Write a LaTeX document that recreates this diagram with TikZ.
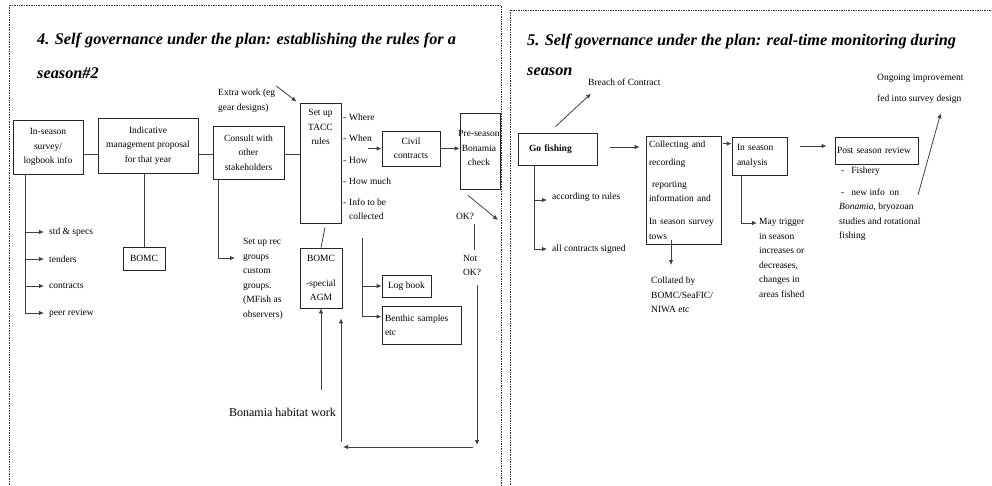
\documentclass[tikz,border=0pt]{standalone}
\usepackage{fontspec}
\setmainfont{Liberation Serif}
\usetikzlibrary{arrows.meta}
\newcommand\diagfont{\fontsize{9.5}{14.5}\selectfont}
\newcommand\headfont{\fontsize{16.3}{19}\selectfont\bfseries\itshape}
\tikzset{
  box/.style={draw=black!85, line width=0.8pt, align=center, inner sep=2pt},
  note/.style={inner sep=0pt, align=left},
  head/.style={inner sep=0pt, anchor=west, font=\headfont},
  link/.style={draw=black!75, line width=0.8pt},
  arr/.style={link, -{Latex[length=5pt,width=4.5pt]}},
  panel/.style={draw=black!80, line width=0.7pt, densely dotted}
}
\begin{document}
\begin{tikzpicture}[x=1pt, y=-1pt, font=\diagfont]
\useasboundingbox (0,0) rectangle (992,486);
\draw[panel] (9,5) rectangle (501,500);
\draw[panel] (510,10) rectangle (1000,500);

\node[head] (headA) at (37,40) {4. Self governance under the plan: establishing the rules for a};
\node[head] (headB) at (37,73) {season\#2};

\node[box, minimum width=70, minimum height=54] (survey) at (48,147) {In-season\\survey/\\logbook info};
\node[box, minimum width=100, minimum height=55] (proposal) at (148,145.5) {Indicative\\management proposal\\for that year};
\node[box, minimum width=71, minimum height=53] (consult) at (248.5,152.5) {Consult with\\other\\stakeholders};
\node[box, minimum width=41, minimum height=120] (tacc) at (320.5,163) {};
\node[note, align=center, anchor=north] (tacctext) at (320.5,109.5) {Set up\\TACC\\rules};
\coordinate (spine) at (0,154);
\draw[link] (survey.east |- spine) -- (proposal.west |- spine);
\draw[link] (proposal.east |- spine) -- (consult.west |- spine);
\draw[link] (consult.east |- spine) -- (tacc.west |- spine);

\node[note, anchor=north west] (extra) at (218,89) {Extra work (eg\\gear designs)};
\draw[arr] ([shift={(1,-3)}]extra.north east) -- ([shift={(-3,-1)}]tacc.north west);

\foreach \name/\ypos/\word in {where/117/Where, when/138/When, how/160/How, howmuch/181/How much}
  \node[note, anchor=west] (\name) at (349,\ypos) {\llap{-\hspace{3pt}}\word};
\node[note, anchor=north west] (info) at (349,198.5) {\llap{-\hspace{3pt}}Info to be\\collected};

\node[box, minimum width=58, minimum height=35] (civil) at (411,148.5) {Civil\\contracts};
\coordinate (tacc out) at (368,148.5);
\draw[arr] (tacc out) -- (civil.west);
\node[box, minimum width=40, minimum height=76] (check) at (480,151) {};
\node[note, align=center] (checktext) at (479,148) {Pre-season\\Bonamia\\check};
\draw[arr] (civil.east) -- (civil.east -| check.west);
\coordinate (ok end) at (498,220);
\draw[arr] ([shift={(-12,6)}]check.south) -- (ok end);

\node[note] (ok) at (465,216) {OK?};
\node[note] (notok) at (472,265.5) {Not\\OK?};
\draw[link] ([shift={(0,5)}]ok.south east) -- ([shift={(0,-5)}]ok.south east |- notok.north);
\coordinate (loop a) at (477,445);
\coordinate (loop b) at (473,447);
\coordinate (loop c) at (343,447);
\coordinate (loop d) at (341,442);
\draw[arr] (loop a |- notok.south) ++(0,9) -- (loop a);
\draw[arr] (loop b) -- (loop c);

\node[box, minimum width=42, minimum height=60] (agm) at (321,278) {BOMC\\[10pt]-special\\AGM};
\draw[link] ([xshift=4.5pt]tacc.south) ++(0,4) -- (agm.north);
\draw[arr] (loop d) -- ([shift={(20,10)}]agm.south);
\node[note, anchor=east, font=\fontsize{12}{14}\selectfont] (habitat) at (336,412) {Bonamia habitat work};
\draw[arr] (agm.south |- habitat.north) ++(0,-18) -- (agm.south);

\node[box, minimum width=49, minimum height=22] (logbook) at (406.5,286) {Log book};
\node[box, minimum height=38, text width=73, align=left, inner xsep=3pt] (benthic) at (421.5,325) {Benthic samples\\etc};
\coordinate (info foot) at (362,238);
\draw[arr] (info foot) |- (logbook.west);
\draw[arr] (info foot) |- ([shift={(0,11)}]benthic.north west);

\foreach \name/\ypos/\word in {specs/232/std \& specs, tenders/259/tenders, contracts/286/contracts, review/313/peer review}{
  \node[note, anchor=west] (\name) at (49,\ypos) {\word};
  \draw[arr] ([xshift=-23pt]survey.south) |- ([xshift=-5pt]\name.west);
}

\node[box, minimum width=42, minimum height=23] (bomc) at (144,258.5) {BOMC};
\draw[link] (bomc.north |- proposal.south) -- (bomc.north);

\node[note, anchor=north west] (recgroups) at (243,238.5) {Set up rec\\groups\\custom\\groups.\\(MFish as\\observers)};
\draw[arr] ([xshift=-30.5pt]consult.south) |- ([shift={(-8,19.5)}]recgroups.north west);

\node[head] (headC) at (527,41) {5. Self governance under the plan: real-time monitoring during};
\node[head] (headD) at (527,72) {season};

\node[box, minimum height=32, text width=57, inner xsep=11pt, align=left, font=\diagfont\bfseries] (gofish) at (557.5,149) {Go fishing};
\node[note, anchor=west] (breach) at (588,82) {Breach of Contract};
\draw[arr] ([shift={(-2,-6)}]gofish.north) -- ([shift={(3,8)}]breach.south west);

\node[note, anchor=west] (rules) at (552,197) {according to rules};
\node[note, anchor=west] (signed) at (552,249) {all contracts signed};
\draw[arr] ([xshift=-23.5pt]gofish.south) |- ([shift={(-5,3)}]rules.west);
\draw[arr] ([xshift=-23.5pt]gofish.south) |- ([xshift=-5pt]signed.west);

\node[box, minimum height=108, text width=69, inner xsep=3pt, align=left] (collect) at (683.5,190) {Collecting and\\[3.5pt]recording\\[7.5pt]\hspace*{3pt}reporting\\information and\\[8.5pt]In season survey\\tows};
\draw[arr] ([shift={(13,-2)}]gofish.east) -- ([shift={(-6,-2)}]gofish.east -| collect.west);

\node[note, anchor=north west] (collated) at (651,277) {Collated by\\BOMC/SeaFIC/\\NIWA etc};
\draw[arr] ([shift={(-12.5,-4)}]collect.south) -- ([shift={(20,-12)}]collated.north west);

\node[box, minimum height=38, text width=45, inner xsep=5pt, align=left] (analysis) at (759.5,156) {In season\\analysis};
\draw[arr] ([shift={(2,8)}]collect.north east) -- ([shift={(0,8)}]collect.north east -| analysis.west);

\node[note, anchor=north west] (trigger) at (759,218.5) {May trigger\\in season\\increases or\\decreases,\\changes in\\areas fished};
\draw[arr] ([xshift=-18.5pt]analysis.south) |- ([shift={(-2,4.5)}]trigger.north west);

\node[box, minimum height=27, text width=79, inner xsep=2pt, align=left] (post) at (876.5,150.5) {Post season review};
\draw[arr] ([shift={(13,-10)}]analysis.east) -- ([shift={(-8,-10)}]analysis.east -| post.west);

\node[note, anchor=north west] (notes) at (839,166.5) {\hspace*{2pt}-\hspace*{7pt}Fishery\\[7.5pt]\hspace*{2pt}-\hspace*{7pt}new info\ \ on\\\emph{Bonamia}, bryozoan\\studies and rotational\\fishing};

\node[note, anchor=north west] (ongoing) at (877,74.5) {Ongoing improvement\\[6.5pt]fed into survey design};
\coordinate (notes out) at (918,195);
\draw[arr] (notes out) -- ([shift={(-23,9)}]ongoing.south east);
\end{tikzpicture}
\end{document}
